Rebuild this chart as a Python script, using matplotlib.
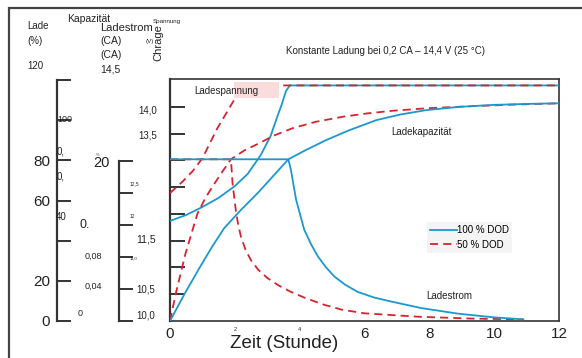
import matplotlib.pyplot as plt
from matplotlib.patches import Rectangle

plt.rcParams["font.family"] = ["Liberation Sans", "DejaVu Sans"]

W, H = 582, 358
BLUE = "#1b98cf"
RED = "#d7232f"
DARK = "#333333"
TXT = "#222222"

# time axis (hours)
hour_ticks = [0, 2, 4, 6, 8, 10, 12]
hour_labels = ["0", "2", "4", "6", "8", "10", "12"]
volt_ticks = [10.5, 11.0, 11.5, 12.0, 12.5, 13.0, 13.5, 14.0]

# charge voltage (V)
volt_t_100 = [0, 0.5, 1.0, 1.5, 2.0, 2.4, 2.8, 3.1, 3.3, 3.45, 3.58, 3.7, 12]
volt_100 = [11.87, 11.98, 12.13, 12.3, 12.52, 12.75, 13.1, 13.45, 13.8, 14.05, 14.3, 14.4, 14.4]
volt_t_50 = [0, 0.38, 0.7, 1.0, 1.46, 1.98, 2.25, 12]
volt_50 = [12.39, 12.6, 12.8, 13.04, 13.6, 14.13, 14.4, 14.4]

# charged capacity (%)
cap_t_100 = [0, 0.45, 0.9, 1.3, 1.67, 2.2, 2.7, 3.2, 3.65, 4.2, 4.82, 5.5, 6.36,
             7.1, 7.9, 8.9, 9.97, 11, 12]
cap_100 = [0, 13.5, 26.2, 37, 46.2, 55.5, 63.6, 72.5, 80.5, 85.2, 90.1, 94.8, 100,
           102.8, 105, 106.6, 107.6, 108.1, 108.4]
cap_t_50 = [0, 0.18, 0.48, 0.85, 1.1, 1.31, 1.6, 1.88, 2.3, 2.75, 3.2, 3.78, 4.5,
            5.33, 6.1, 6.88, 7.9, 8.94, 10.5, 12]
cap_50 = [0, 13.8, 33.7, 53.6, 61.5, 66.9, 74, 80.5, 85, 88.5, 92.3, 96, 99.2,
          101.7, 103.4, 104.7, 105.9, 106.7, 107.7, 108.4]

# charge current (CA)
cur_t_100 = [0, 3.65, 3.73, 3.89, 4.14, 4.35, 4.56, 4.8, 5.07, 5.4, 5.79, 6.3, 6.83,
             7.75, 8.9, 9.97, 10.9]
cur_100 = [0.2, 0.2, 0.187, 0.150, 0.113, 0.095, 0.080, 0.067, 0.055, 0.045, 0.036,
           0.029, 0.024, 0.016, 0.009, 0.0046, 0.002]
cur_t_50 = [0, 1.88, 1.93, 2.03, 2.1, 2.19, 2.33, 2.5, 2.73, 3.01, 3.35, 3.73, 4.2,
            4.76, 5.3, 6.0, 7.65, 9.3, 10.9]
cur_50 = [0.2, 0.2, 0.170, 0.137, 0.12, 0.104, 0.088, 0.075, 0.063, 0.053, 0.044, 0.036,
          0.028, 0.020, 0.014, 0.0095, 0.0053, 0.003, 0.002]

# left scales
cap_ticks = [0, 20, 40, 60, 80, 100, 120]
cap_labels = ["0", "20", "", "60", "80", "", ""]
vscale_ticks = [10.0, 10.5, 11.0, 11.5, 12.0, 12.5]


def fx(x):
    return x / W


def fy(y):
    return 1 - y / H


def ptext(x, y, s, size, **kw):
    kw.setdefault("ha", "left")
    kw.setdefault("va", "center")
    kw.setdefault("color", TXT)
    fig.text(fx(x), fy(y), s, fontsize=size, **kw)


fig = plt.figure(figsize=(W / 100, H / 100), dpi=100, facecolor="white")

# outer frame
fig.add_artist(Rectangle((fx(9), fy(400)), fx(620), 392 / H, transform=fig.transFigure,
                         fill=False, edgecolor="#444444", linewidth=1.6, clip_on=False))

# main plot (voltage axis)
ax = fig.add_axes([fx(170), fy(321), (559 - 170) / W, (321 - 79) / H])
ax.set_xlim(0, 12)
ax.set_ylim(10, 14.52)
for s in ax.spines.values():
    s.set_color(DARK)
    s.set_linewidth(1.2)
ax.spines["left"].set_linewidth(1.6)
ax.set_yticks(volt_ticks)
ax.tick_params(axis="y", direction="in", length=10.5, width=1.4, color=DARK, labelleft=False)
ax.set_xticks(hour_ticks)
ax.set_xticklabels(hour_labels)
ax.tick_params(axis="x", length=0, pad=4.5, labelsize=11, labelcolor=TXT)
for lbl in ax.get_xticklabels()[1:3]:
    lbl.set_fontsize(4)

lv100, = ax.plot(volt_t_100, volt_100, color=BLUE, lw=1.3, zorder=3)
lv50, = ax.plot(volt_t_50, volt_50, color=RED, lw=1.3, dashes=(4.5, 2.8), zorder=4)

ax.add_patch(Rectangle((1.98, 14.16), 1.39, 0.3, facecolor="#fbdcdc", edgecolor="none", zorder=5))
ax.text(0.74, 14.3, "Ladespannung", fontsize=7, color=TXT, va="center", zorder=6)
ax.text(6.84, 13.53, "Ladekapazität", fontsize=7, color=TXT, va="center")
ax.text(7.92, 10.47, "Ladestrom", fontsize=7, color=TXT, va="center")

leg = ax.legend([lv100, lv50], ["100 % DOD", "50 % DOD"], loc="upper left",
                bbox_to_anchor=(0.648, 0.43), fontsize=7, frameon=True, fancybox=False,
                facecolor="#f4f4f4", edgecolor="none", framealpha=1, handlelength=2.7,
                handletextpad=0.0, labelspacing=0.45, borderpad=0.35)

# capacity curves
axc = ax.twinx()
axc.set_ylim(0, 120.5)
axc.axis("off")
axc.plot(cap_t_50, cap_50, color=RED, lw=1.3, dashes=(4.5, 2.8))
axc.plot(cap_t_100, cap_100, color=BLUE, lw=1.3)

# current curves
axi = ax.twinx()
axi.set_ylim(0, 0.2993)
axi.axis("off")
axi.plot(cur_t_50, cur_50, color=RED, lw=1.3, dashes=(4.5, 2.8))
axi.plot(cur_t_100, cur_100, color=BLUE, lw=1.3)

# capacity scale
axcap = fig.add_axes([fx(57), fy(321), 20 / W, (321 - 80) / H])
axcap.patch.set_visible(False)
for k in ["top", "right", "bottom"]:
    axcap.spines[k].set_visible(False)
axcap.spines["left"].set_color(DARK)
axcap.spines["left"].set_linewidth(1.6)
axcap.set_ylim(0, 120)
axcap.set_xticks([])
axcap.set_yticks(cap_ticks)
axcap.set_yticklabels(cap_labels)
axcap.tick_params(axis="y", direction="in", length=10, width=1.4, color=DARK,
                  labelsize=11, labelcolor=TXT, pad=5)

# voltage scale
axv = fig.add_axes([fx(119), fy(321), 20 / W, (321 - 160.7) / H])
axv.patch.set_visible(False)
for k in ["top", "right", "bottom"]:
    axv.spines[k].set_visible(False)
axv.spines["left"].set_color(DARK)
axv.spines["left"].set_linewidth(1.6)
axv.set_ylim(10.0, 12.5)
axv.set_xticks([])
axv.set_yticks(vscale_ticks)
axv.tick_params(axis="y", direction="in", length=10, width=1.4, color=DARK, labelleft=False)

# header
ptext(27, 26, "Lade", 7)
ptext(27, 41, "(%)", 7)
ptext(27, 66, "120", 7)
ptext(67, 19, "Kapazität", 7.5)
ptext(100, 28, "Ladestrom", 8)
ptext(100, 41, "(CA)", 7.5)
ptext(100, 55, "(CA)", 7.5)
ptext(100, 70, "14,5", 7.5)
ptext(158, 43, "Chrage", 8, rotation=90, ha="center")
ptext(153, 21, "Spannung", 4.5)
ptext(146, 41, "(V)", 4.5)
ptext(385, 51, "Konstante Ladung bei 0,2 CA – 14,4 V (25 °C)", 7, ha="center")

# stray scale labels
ptext(57, 120, "100", 6.5)
ptext(57, 152, "0,", 7)
ptext(57, 177, "0,", 7)
ptext(56, 217, "40", 7)
ptext(79, 225, "0.", 9)
ptext(85, 256, "0,08", 6.5)
ptext(85, 286, "0,04", 6.5)
ptext(78, 313, "0", 6.5)
ptext(93, 163, "20", 10.5)
ptext(96, 155, "%", 3)
ptext(138, 110, "14,0", 7)
ptext(138, 135, "13,5", 7)
ptext(130, 184, "12,5", 3.5)
ptext(130, 216, "12", 3.5)
ptext(130, 259, "11,0", 3)
ptext(136, 240, "11,5", 7.5)
ptext(136, 290, "10,5", 7)
ptext(136, 316, "10,0", 7)

ptext(284, 344, "Zeit (Stunde)", 13.5, ha="center")

fig.savefig("out.png", dpi=100)
